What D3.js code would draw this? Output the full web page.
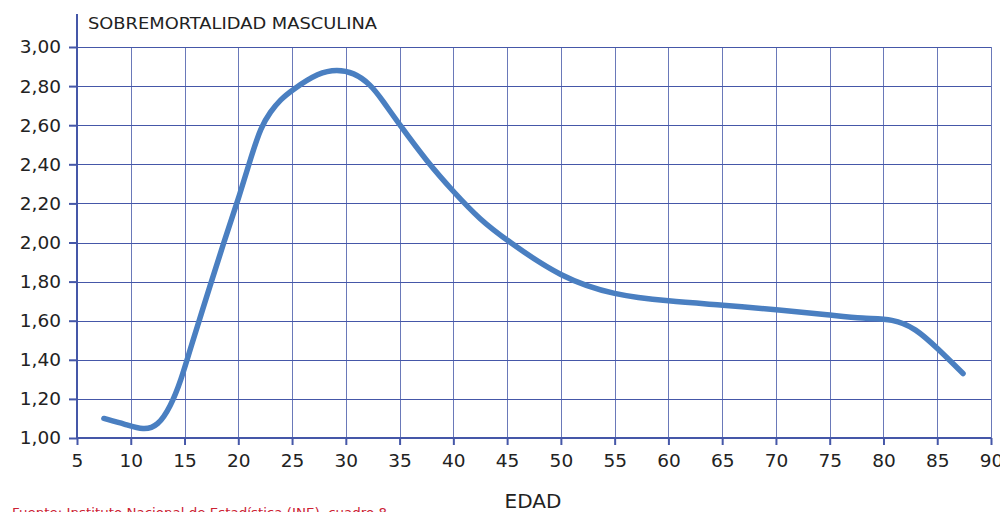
<!DOCTYPE html>
<html><head><meta charset="utf-8">
<script src="https://cdn.jsdelivr.net/npm/d3@7"></script>
<style>body{margin:0;background:#fff}svg{display:block}</style>
</head><body>
<svg id="c" width="1000" height="512"></svg>
<script>
const ages   = [7.5, 9.5, 11.2, 12.5, 13.7, 14.7, 15.5, 17.5, 18.7, 20, 21.2, 22.1, 23.0, 23.9, 25, 27.5, 29.2, 30.7, 32.3, 33.5, 34.9, 37.6, 40, 42.5, 45, 50, 55, 60, 65, 70.4, 75, 78.1, 80.9, 83, 85, 87.4];
const ratios = [1.10, 1.07, 1.04, 1.06, 1.16, 1.30, 1.45, 1.80, 2.01, 2.22, 2.44, 2.59, 2.67, 2.73, 2.78, 2.87, 2.885, 2.87, 2.81, 2.72, 2.61, 2.41, 2.26, 2.115, 2.01, 1.82, 1.73, 1.70, 1.68, 1.655, 1.63, 1.61, 1.61, 1.56, 1.46, 1.33];
const xTicks = [5,10,15,20,25,30,35,40,45,50,55,60,65,70,75,80,85,90];
const yTicks = [1.0,1.2,1.4,1.6,1.8,2.0,2.2,2.4,2.6,2.8,3.0];
const title = "SOBREMORTALIDAD MASCULINA";
const xLabel = "EDAD";
const source = "Fuente: Instituto Nacional de Estadística (INE), cuadro 8";

const svg = d3.select("#c");
const L = 77, R = 991, T = 47, B = 438;
const x = d3.scaleLinear().domain([5,90]).range([L,R]);
const y = d3.scaleLinear().domain([1,3]).range([B,T]);
const gridC = "#4557a8";
const font = "'DejaVu Sans', Verdana, sans-serif";

// grid
svg.append("g").selectAll("line").data(yTicks.slice(1)).join("line")
  .attr("x1",L).attr("x2",R).attr("y1",d=>Math.round(y(d))+0.5).attr("y2",d=>Math.round(y(d))+0.5)
  .attr("stroke",gridC).attr("stroke-width",1);
svg.append("g").selectAll("line").data(xTicks.slice(1)).join("line")
  .attr("x1",d=>Math.round(x(d))+0.5).attr("x2",d=>Math.round(x(d))+0.5).attr("y1",T).attr("y2",B)
  .attr("stroke",gridC).attr("stroke-width",1).attr("stroke-opacity",0.8);

// axes
const xa = svg.append("g").attr("transform",`translate(0,${B})`)
  .call(d3.axisBottom(x).tickValues(xTicks).tickSize(7).tickPadding(9).tickFormat(d3.format("d")));
const ya = svg.append("g").attr("transform",`translate(${L},0)`)
  .call(d3.axisLeft(y).tickValues(yTicks).tickSize(8).tickPadding(8).tickFormat(d=>d3.format(".2f")(d).replace(".",",")));
[xa,ya].forEach(g=>{
  g.select(".domain").remove();
  g.selectAll(".tick line").attr("stroke",gridC).attr("stroke-width",2);
  g.selectAll("text").attr("fill","#222").attr("font-family",font).attr("font-size",18.5);
});
xa.selectAll(".tick text").attr("dy","0.71em");
// axis lines
svg.append("line").attr("x1",L).attr("x2",L).attr("y1",14).attr("y2",B+1).attr("stroke",gridC).attr("stroke-width",2);
svg.append("line").attr("x1",L).attr("x2",R).attr("y1",B).attr("y2",B).attr("stroke",gridC).attr("stroke-width",2);

// curve
const line = d3.line().x((d,i)=>x(ages[i])).y(d=>y(d)).curve(d3.curveBasis);
svg.append("path").attr("d",line(ratios)).attr("fill","none").attr("stroke","#4a7fc1")
  .attr("stroke-width",5.5).attr("stroke-linecap","round").attr("stroke-linejoin","round");

// texts
svg.append("text").attr("x",88).attr("y",29).text(title).attr("font-family",font).attr("font-size",15)
  .attr("textLength",289).attr("lengthAdjust","spacingAndGlyphs").attr("fill","#222");
svg.append("text").attr("x",533).attr("y",508).attr("text-anchor","middle").text(xLabel).attr("font-family",font).attr("font-size",20).attr("fill","#222");
svg.append("text").attr("x",12).attr("y",517).text(source).attr("font-family",font).attr("font-size",13)
  .attr("textLength",375).attr("lengthAdjust","spacingAndGlyphs").attr("fill","#cc2233");
</script>
</body></html>
